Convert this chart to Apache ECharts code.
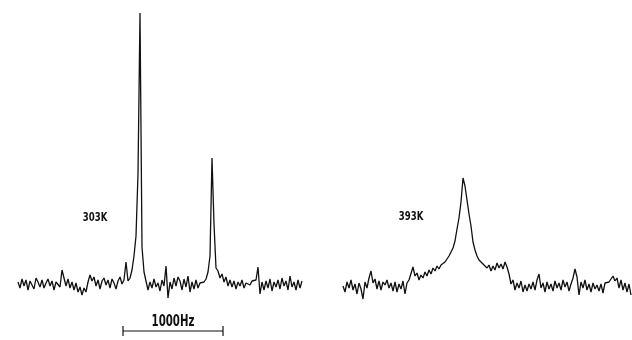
<!DOCTYPE html>
<html>
<head>
<meta charset="utf-8">
<script src="https://cdn.jsdelivr.net/npm/echarts@6/dist/echarts.min.js"></script>
<style>
  html, body { margin: 0; padding: 0; background: #fff; }
  #chart { width: 632px; height: 340px; }
</style>
</head>
<body>
<div id="chart"></div>
<script>
// sampling step of both traces, Hz per point
const step = 20

// 303K trace, intensity above baseline (arbitrary units)
const spec303 = [
  2, -4, 5, -2, 4, -6, 3, 1, -5, 6, 2, -3, 4, -4, 1, 5, -2, 3, -6, 2, 4, -3,
  14, 6, -2, 5, -4, 2, -6, 1, -8, -3, -11, -4, -8, 2, 9, 3, 7, -2, 4, -5,
  3, 6, -1, 4, -4, 5, 1, -5, 3, 7, 0, 4, 22, 3, 6, 14, 28, 48, 110, 271,
  37, 12, 3, -6, 2, -4, 5, -3, 1, -7, 4, -2, 18, -14, 2, -5, 6, -2, 7, 3,
  -6, 5, -3, 8, -8, 2, -5, 4, -4, 1, 3, 2, 5, 12, 28, 126, 60, 16, 13, 6,
  10, 2, 7, -2, 4, -3, 3, -5, 2, -2, 4, -4, 1, 2, -1, 3, 1, 4, 17, -10,
  2, -6, 3, -4, 5, -7, 2, -3, 4, -5, 6, -2, 3, -6, 8, -3, 2, -6, 4, -4, 3
]

// 393K trace
const spec393 = [
  0, -6, 4, -2, 6, -4, 2, -8, 3, -3, -13, 4, -2, 8, 15, 3, 7, -3, 5, -4,
  4, 1, 6, -2, 3, -5, 4, -6, 2, -3, 5, -8, 3, 6, 8, 19, 10, 13, 6, 11,
  8, 14, 10, 16, 12, 18, 15, 20, 17, 21, 19, 24, 25, 30, 31, 38, 45, 57, 68, 84,
  108, 100, 86, 72, 60, 44, 36, 30, 26, 27, 22, 24, 18, 21, 15, 20, 16, 23, 18, 22,
  17, 24, 19, 12, 2, 6, -4, 3, -2, 5, -6, 1, -5, 2, -3, 4, -4, 6, 12, -2,
  3, -6, 4, -3, 2, -5, 5, -2, 3, -4, 6, -1, 4, -5, 2, 8, 17, 9, -9, 4,
  -2, 6, -4, 2, -6, 3, -3, 1, -5, 2, -7, 3, 1, 4, 7, 10, 5, 8, -2, 6,
  -4, 3, -6, 2, -9
]

const tempLabels = ['303K', '393K']
// where the labels sit, in each trace's own Hz / intensity units
const tempLabelPos = [[770, 66], [680, 69]]
const scaleBarHz = 1000
const scaleBarStart = 1050
const scaleBarY = -47

const toPairs = arr => arr.map((v, i) => [i * step, v])

const chart = echarts.init(document.getElementById('chart'))

const lineColor = '#111'
const labelFont = "'DejaVu Sans', sans-serif"

const option = {
  backgroundColor: '#fff',
  animation: false,
  grid: [
    { left: 18, top: 10, width: (spec303.length - 1) * 2, height: 325 },
    { left: 343, top: 10, width: (spec393.length - 1) * 2, height: 325 }
  ],
  xAxis: [
    { type: 'value', gridIndex: 0, min: 0, max: (spec303.length - 1) * step, show: false },
    { type: 'value', gridIndex: 1, min: 0, max: (spec393.length - 1) * step, show: false }
  ],
  yAxis: [
    { type: 'value', gridIndex: 0, min: -51, max: 274, show: false },
    { type: 'value', gridIndex: 1, min: -49, max: 276, show: false }
  ],
  series: [
    {
      name: tempLabels[0],
      type: 'line',
      xAxisIndex: 0,
      yAxisIndex: 0,
      data: toPairs(spec303),
      showSymbol: false,
      lineStyle: { color: lineColor, width: 1.3 }
    },
    {
      name: tempLabels[1],
      type: 'line',
      xAxisIndex: 1,
      yAxisIndex: 1,
      data: toPairs(spec393),
      showSymbol: false,
      lineStyle: { color: lineColor, width: 1.3 }
    },
    // 1000 Hz scale bar under the left trace
    {
      type: 'line',
      xAxisIndex: 0,
      yAxisIndex: 0,
      data: [[scaleBarStart, scaleBarY], [scaleBarStart + scaleBarHz, scaleBarY]],
      symbol: 'rect',
      symbolSize: [1.2, 10],
      itemStyle: { color: lineColor },
      lineStyle: { color: lineColor, width: 1.2 }
    }
  ]
}

chart.setOption(option)

// condensed-looking texts: no narrow font installed, so squeeze DejaVu horizontally
const narrowText = (text, pos, gridIdx, size, scaleX, vAlign) => {
  const p = chart.convertToPixel({ xAxisIndex: gridIdx, yAxisIndex: gridIdx }, pos)
  return {
    type: 'text',
    x: p[0],
    y: p[1],
    scaleX: scaleX,
    style: {
      text: text,
      fill: lineColor,
      font: 'bold ' + size + 'px ' + labelFont,
      textAlign: 'center',
      textVerticalAlign: vAlign
    }
  }
}

chart.setOption({
  graphic: [
    narrowText(tempLabels[0], tempLabelPos[0], 0, 13, 0.66, 'middle'),
    narrowText(tempLabels[1], tempLabelPos[1], 1, 13, 0.66, 'middle'),
    narrowText(scaleBarHz + 'Hz', [scaleBarStart + scaleBarHz / 2, scaleBarY + 1], 0, 15, 0.68, 'bottom')
  ]
})

window.addEventListener('resize', () => chart.resize())
</script>
</body>
</html>
